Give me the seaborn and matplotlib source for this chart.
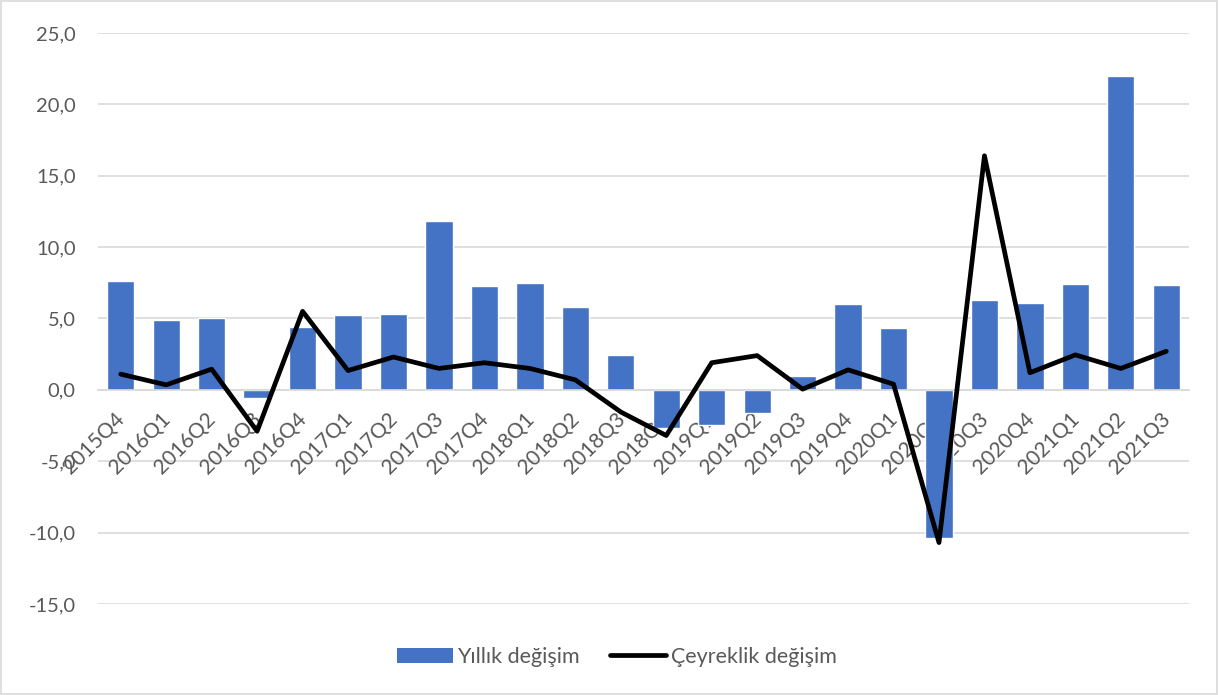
import matplotlib.pyplot as plt
import matplotlib.transforms as mtransforms
import numpy as np
import pandas as pd
import seaborn as sns
from matplotlib.lines import Line2D
from matplotlib.patches import Patch, Rectangle

# Data
quarters = ['2015Q4', '2016Q1', '2016Q2', '2016Q3', '2016Q4', '2017Q1', '2017Q2', '2017Q3',
            '2017Q4', '2018Q1', '2018Q2', '2018Q3', '2018Q4', '2019Q1', '2019Q2', '2019Q3',
            '2019Q4', '2020Q1', '2020Q2', '2020Q3', '2020Q4', '2021Q1', '2021Q2', '2021Q3']
annual = [7.6, 4.9, 5.0, -0.6, 4.4, 5.25, 5.3, 11.8,
          7.3, 7.5, 5.8, 2.45, -2.65, -2.45, -1.6, 1.0,
          6.0, 4.35, -10.4, 6.3, 6.1, 7.4, 22.0, 7.35]
quarterly = [1.1, 0.35, 1.45, -2.9, 5.5, 1.35, 2.3, 1.5,
             1.9, 1.5, 0.7, -1.55, -3.2, 1.9, 2.4, 0.05,
             1.4, 0.4, -10.7, 16.4, 1.2, 2.45, 1.5, 2.7]
y_ticks = [-15, -10, -5, 0, 5, 10, 15, 20, 25]

bar_color = '#4472C4'
grid_color = '#D9D9D9'
text_color = '#595959'

sns.set_style('white')
plt.rcParams['font.family'] = ['Lato', 'DejaVu Sans']

df = pd.DataFrame({'quarter': quarters, 'annual': annual, 'quarterly': quarterly})
df['pos'] = np.arange(len(df))

fig = plt.figure(figsize=(12.19, 6.95), dpi=100)
ax = fig.add_axes([0.0804, 0.131, 0.895, 0.8215])

ax.set_axisbelow(True)
for t in y_ticks:
    ax.axhline(t, color=grid_color, lw=1.2, zorder=0)

sns.barplot(data=df, x='quarter', y='annual', color=bar_color, width=0.6,
            saturation=1, ax=ax, zorder=2)
sns.lineplot(data=df, x='pos', y='quarterly', color='black', lw=3.4, ax=ax,
             zorder=3, solid_capstyle='round', solid_joinstyle='round')

ax.set_xlim(-0.5, len(quarters) - 0.5)
ax.set_ylim(-15, 25)
ax.set_xlabel('')
ax.set_ylabel('')

# category axis crosses at 0 (set before labels: this resets the ticks)
for s in ['top', 'right', 'left']:
    ax.spines[s].set_visible(False)
ax.spines['bottom'].set_position(('data', 0))
ax.spines['bottom'].set_color(grid_color)
ax.spines['bottom'].set_linewidth(1.2)

ax.tick_params(axis='x', length=0, pad=14, labelsize=15, colors=text_color, labelrotation=45)
ax.tick_params(axis='y', length=0, pad=16, labelsize=14.5, colors=text_color)

ax.set_yticks(y_ticks)
ax.set_yticklabels([f'{t:.1f}'.replace('.', ',') for t in y_ticks])
ax.set_xticks(df['pos'])
ax.set_xticklabels(quarters)
shift = mtransforms.ScaledTranslation(-0.06, 0, fig.dpi_scale_trans)
for lab in ax.get_xticklabels():
    lab.set_rotation(45)
    lab.set_ha('right')
    lab.set_rotation_mode('anchor')
    lab.set_transform(lab.get_transform() + shift)

handles = [Patch(facecolor=bar_color, edgecolor='none'),
           Line2D([0], [0], color='black', lw=3.4, solid_capstyle='round')]
fig.legend(handles, ['Yıllık değişim', 'Çeyreklik değişim'], loc='center',
           bbox_to_anchor=(0.506, 0.055), ncol=2, frameon=False, fontsize=15.5,
           labelcolor=text_color, handlelength=2.6, handletextpad=0.2, columnspacing=1.4)

fig.patches.append(Rectangle((0.001, 0.002), 0.997, 0.996, transform=fig.transFigure,
                             fill=False, edgecolor=grid_color, lw=1.2))

fig.savefig('out.png', dpi=100)
